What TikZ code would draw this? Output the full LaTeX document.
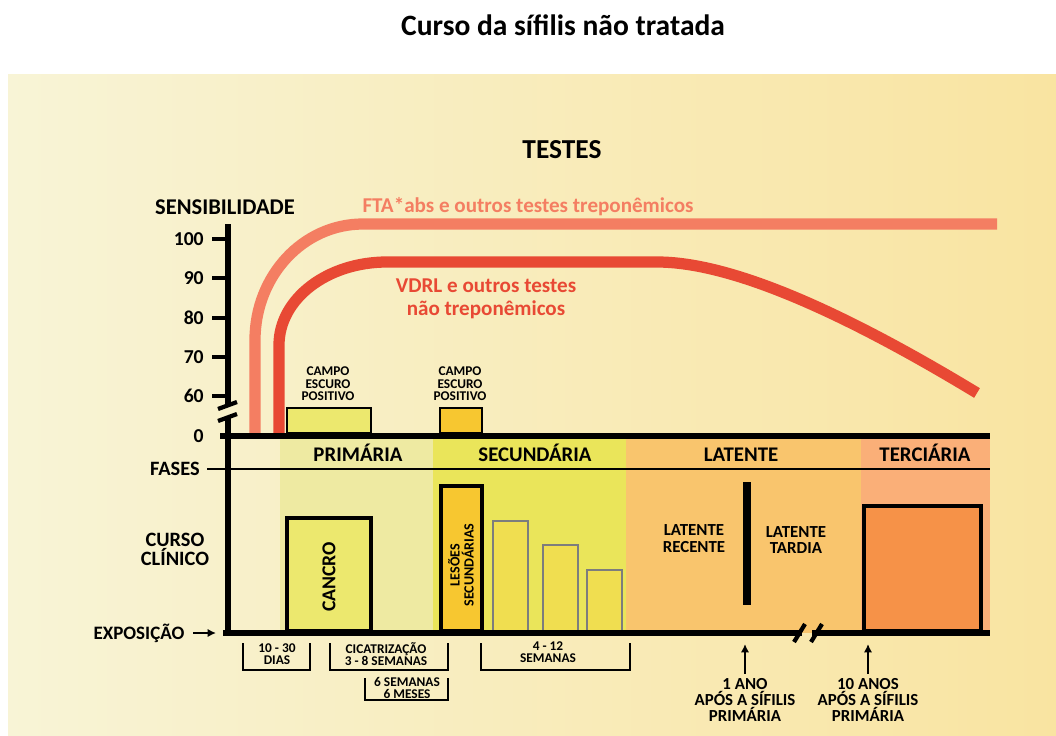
\documentclass[tikz,border=0pt]{standalone}
\usepackage{fontspec}
\setmainfont{Carlito}
\usetikzlibrary{arrows.meta}

\definecolor{bgleft}{RGB}{248,244,214}
\definecolor{bgright}{RGB}{249,228,161}
\definecolor{primband}{RGB}{238,234,162}
\definecolor{secband}{RGB}{234,229,90}
\definecolor{latband}{RGB}{249,197,109}
\definecolor{terband}{RGB}{250,175,120}
\definecolor{cancrofill}{RGB}{236,232,110}
\definecolor{lesaofill}{RGB}{247,199,48}
\definecolor{lesaolight}{RGB}{240,222,80}
\definecolor{lesaoedge}{RGB}{125,125,125}
\definecolor{terfill}{RGB}{246,146,72}
\definecolor{ftacol}{RGB}{244,126,98}
\definecolor{vdrlcol}{RGB}{232,73,52}

\newcommand{\fsz}[2]{\fontsize{#1}{#2}\selectfont}

\begin{document}
\begin{tikzpicture}[x=0.025cm,y=-0.025cm,
  txt/.style={font=\bfseries,inner sep=0pt,align=center},
  small/.style={txt,font=\bfseries\fsz{9.5}{8.8}},
  fase/.style={txt,anchor=base,font=\bfseries\fsz{14.8}{16}},
  bracket/.style={line width=1.1pt},
  seta/.style={line width=1.4pt,-{Latex[length=6pt,width=6pt]}}]

% fundo
\fill[white] (0,0) rectangle (1056,735);
\shade[left color=bgleft,right color=bgright] (8,75) rectangle (1056,735);
\useasboundingbox (0,0) rectangle (1056,735);

\node[txt,font=\bfseries\fsz{21}{25}] (titulo) at (563,25) {Curso da sífilis não tratada};
\node[txt,font=\bfseries\fsz{19.5}{22}] (testes) at (562,150) {TESTES};

% fases
\fill[primband] (280,436) rectangle (433,633);
\fill[secband] (433,436) rectangle (626,633);
\fill[latband] (626,436) rectangle (861,633);
\fill[terband] (861,436) rectangle (990,633);
\draw[line width=1.8pt] (207,469) -- (990,469);

\node[fase] (primaria) at (358,461) {PRIMÁRIA};
\node[fase] (secundaria) at (535,461) {SECUNDÁRIA};
\node[fase] (latente) at (741,461) {LATENTE};
\node[fase] (terciaria) at (925,461) {TERCIÁRIA};

% curvas
\draw[ftacol,line width=8pt] (255,433) -- (255,340) .. controls (255,276) and (303,224) .. (363,224) -- (997,224);
\draw[vdrlcol,line width=8pt] (279,433) -- (279,345) .. controls (279,299) and (327,262) .. (387,262) -- (657,262) .. controls (730,262) and (840,310) .. (977,393);
\node[txt,text=ftacol,font=\bfseries\fsz{15}{18}] (fta) at (528,207) {FTA*abs e outros testes treponêmicos};
\node[txt,text=vdrlcol,font=\bfseries\fsz{15}{16}] (vdrl) at (486,299) {VDRL e outros testes\\não treponêmicos};

% campo escuro
\draw[line width=2pt,fill=cancrofill] (287,408) rectangle (371,433);
\draw[line width=2pt,fill=lesaofill] (440,408) rectangle (482,433);
\node[small] (campo1) at (328,384) {CAMPO\\ESCURO\\POSITIVO};
\node[small] (campo2) at (460,384) {CAMPO\\ESCURO\\POSITIVO};

% curso clinico
\draw[line width=3.2pt,fill=cancrofill] (287,518) rectangle (371,631);
\node[txt,rotate=90,font=\bfseries\fsz{14}{16}] (cancro) at (329,577) {CANCRO};
\draw[line width=2.2pt,fill=lesaofill] (441,486) rectangle (482,631);
\node[txt,rotate=90,font=\bfseries\fsz{10}{10}] (lesoes) at (461,565) {LESÕES\\SECUNDÁRIAS};
\draw[line width=2pt,draw=lesaoedge,fill=lesaolight] (493,521) rectangle (528,631);
\draw[line width=2pt,draw=lesaoedge,fill=lesaolight] (543,545) rectangle (578,631);
\draw[line width=2pt,draw=lesaoedge,fill=lesaolight] (587,570) rectangle (622,631);
\draw[line width=5.2pt] (747,482) -- (747,605);
\node[txt,font=\bfseries\fsz{12}{12}] (recente) at (694,539) {LATENTE\\RECENTE};
\node[txt,font=\bfseries\fsz{12}{12}] (tardia) at (796,540) {LATENTE\\TARDIA};
\draw[line width=2.8pt,fill=terfill] (864,506) rectangle (981,631);

% eixos
\draw[line width=3.6pt] (228,224) -- (228,405);
\draw[line width=3.6pt] (228,417) -- (228,634);
\draw[line width=3pt] (218,409) -- (237,402);
\draw[line width=3pt] (218,421) -- (237,414);
\draw[line width=4.3pt] (220,436) -- (990,436);
\draw[line width=4.3pt] (223,633) -- (802,633);
\draw[line width=4.3pt] (812,633) -- (990,633);
\draw[line width=3pt] (794,642) -- (805,624);
\draw[line width=3pt] (811,642) -- (822,624);

\foreach \v/\y in {100/239,90/278,80/318,70/357,60/396}{
  \draw[line width=3pt] (212,\y) -- (228,\y);
  \node[txt,anchor=east,font=\bfseries\fsz{14}{16}] (tick\v) at (204,\y) {\v};
}
\node[txt,anchor=east,font=\bfseries\fsz{14}{16}] (tick0) at (204,436) {0};

\node[txt,font=\bfseries\fsz{16}{18}] (sensib) at (225,207) {SENSIBILIDADE};
\node[txt,anchor=east,font=\bfseries\fsz{14.5}{16}] (fases) at (200,469) {FASES};
\node[txt,font=\bfseries\fsz{14.5}{13.5}] (curso) at (175,549) {CURSO\\CLÍNICO};
\node[txt,font=\bfseries\fsz{13.5}{16}] (expo) at (139,633) {EXPOSIÇÃO};
\coordinate (expotip) at (216,633);
\draw[seta] ([xshift=6pt]expo.east) -- (expotip);

% duracoes
\draw[bracket] (243,643) -- (243,670) -- (310,670) -- (310,643);
\node[small] (dias) at (277,654) {10 - 30\\DIAS};
\draw[bracket] (330,643) -- (330,670) -- (448,670) -- (448,643);
\node[small] (cicatriz) at (386,654) {CICATRIZAÇÃO\\3 - 8 SEMANAS};
\draw[bracket] (365,678) -- (365,700) -- (448,700) -- (448,678);
\node[small] (meses) at (407,688) {6 SEMANAS\\6 MESES};
\draw[bracket] (481,643) -- (481,670) -- (630,670) -- (630,643);
\node[small] (semanas) at (548,652) {4 - 12\\SEMANAS};

% marcos
\node[txt,font=\bfseries\fsz{12}{11.7}] (umano) at (745,700) {1 ANO\\APÓS A SÍFILIS\\PRIMÁRIA};
\coordinate (umanotip) at (745,644);
\draw[seta] ([yshift=3pt]umano.north) -- (umanotip);
\node[txt,font=\bfseries\fsz{12}{11.7}] (dezanos) at (868,700) {10 ANOS\\APÓS A SÍFILIS\\PRIMÁRIA};
\coordinate (dezanostip) at (868,644);
\draw[seta] ([yshift=3pt]dezanos.north) -- (dezanostip);

\end{tikzpicture}
\end{document}
